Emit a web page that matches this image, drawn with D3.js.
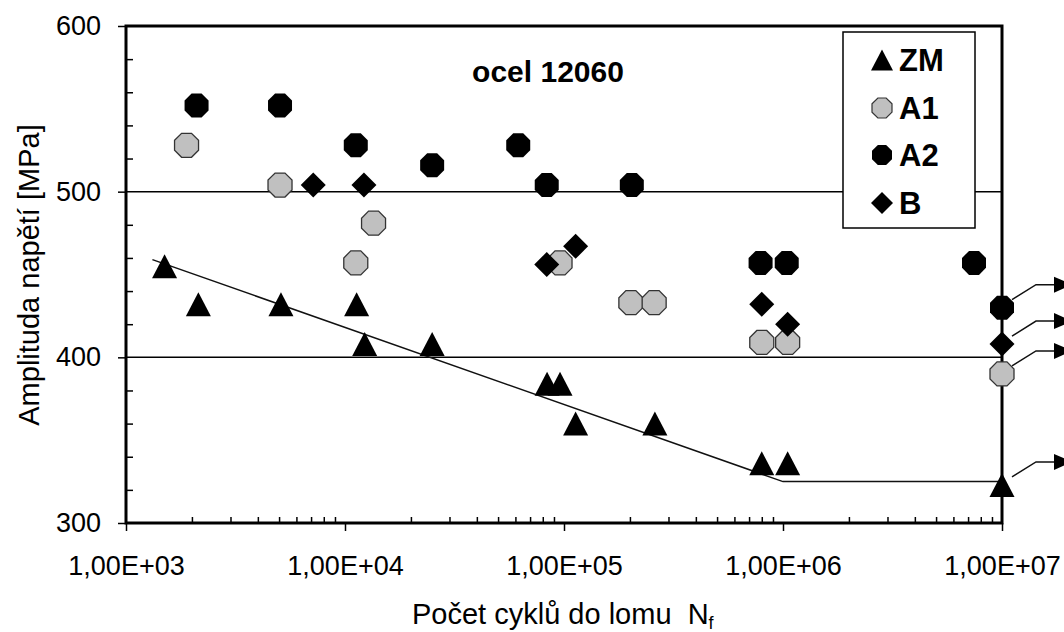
<!DOCTYPE html>
<html>
<head>
<meta charset="utf-8">
<script src="https://cdn.jsdelivr.net/npm/d3@7"></script>
<style>
    body { margin: 0; background: #fff; }
    svg { display: block; font-family: "Liberation Sans", Arial, sans-serif; }
</style>
</head>
<body>
<svg id="chart" width="1064" height="632"></svg>
<script>
/* S-N curve, ocel 12060 */
const seriesNames = ["ZM", "A1", "A2", "B"];

const zmN = [1500, 2140, 5100, 11300, 12300, 25000, 83700, 95900, 113000, 260000, 800000, 1050000, 1e7];
const zmS = [455, 432, 432, 432, 408, 408, 384, 384, 360, 360, 336, 336, 323];

const a1N = [1890, 5050, 11200, 13500, 95900, 202000, 258000, 800000, 1050000, 1e7];
const a1S = [528, 504, 457, 481, 457, 433, 433, 409, 409, 390];

const a2N = [2100, 5050, 11200, 25000, 61800, 83400, 204000, 790000, 1040000, 7450000, 1e7];
const a2S = [552, 552, 528, 516, 528, 504, 504, 457, 457, 457, 430];

const bN = [7160, 12200, 83400, 113000, 800000, 1050000, 1e7];
const bS = [504, 504, 456, 467, 432, 420, 408];

// fitted curve for ZM
const fitN = [1320, 1e6, 1e7];
const fitS = [459, 325, 325];

// runout points (arrows)
const runoutN = 1e7;
const runoutS = [430, 408, 390, 323];

const xTicks = [1e3, 1e4, 1e5, 1e6, 1e7];
const yTicks = [300, 400, 500, 600];
const gridValues = [400, 500];

const svg = d3.select("svg#chart");
const plotLeft = 126, plotRight = 1002, plotTop = 26, plotBottom = 523;

const x = d3.scaleLog().domain([1e3, 1e7]).range([plotLeft, plotRight]);
const y = d3.scaleLinear().domain([300, 600]).range([plotBottom, plotTop]);

// marker shapes
function octagon(r) {
    const R = r / Math.cos(Math.PI / 8);
    const pts = d3.range(8).map((k) => {
        const a = Math.PI / 8 + (k * Math.PI) / 4;
        return [R * Math.cos(a), R * Math.sin(a)];
    });
    return "M" + pts.map((p) => p.join(",")).join("L") + "Z";
}
function triangle(w, h) {
    return `M0,${-h / 2}L${w / 2},${h / 2}L${-w / 2},${h / 2}Z`;
}
function diamond(r) {
    return `M0,${-r}L${r},0L0,${r}L${-r},0Z`;
}

const styles = {
    ZM: { d: triangle(25, 24), dl: triangle(22, 21), fill: "#000", stroke: "none" },
    A1: { d: octagon(12), dl: octagon(10), fill: "#c0c0c0", stroke: "#333" },
    A2: { d: octagon(12), dl: octagon(10), fill: "#000", stroke: "none" },
    B: { d: diamond(12.5), dl: diamond(11), fill: "#000", stroke: "none" },
};

// gridlines
svg.append("g")
    .selectAll("line")
    .data(gridValues)
    .join("line")
    .attr("x1", plotLeft)
    .attr("x2", plotRight)
    .attr("y1", (d) => y(d))
    .attr("y2", (d) => y(d))
    .attr("stroke", "#000")
    .attr("stroke-width", 1.5);

// y axis major + minor ticks
const yAxis = svg.append("g")
    .attr("transform", `translate(${plotLeft},0)`)
    .call(d3.axisLeft(y).tickValues(yTicks).tickSize(8).tickPadding(17).tickSizeOuter(0));
yAxis.select(".domain").remove();
yAxis.selectAll("line").attr("stroke-width", 1.5);
yAxis.selectAll("text")
    .attr("font-size", 27)
    .attr("font-family", "Liberation Sans, Arial, sans-serif")
    .attr("fill", "#000");

const yMinor = d3.range(320, 600, 20).filter((v) => v % 100 !== 0);
svg.append("g")
    .attr("transform", `translate(${plotLeft},0)`)
    .call(d3.axisRight(y).tickValues(yMinor).tickSize(7).tickFormat(""))
    .call((g) => g.select(".domain").remove())
    .selectAll("line").attr("stroke-width", 1.5);

// x axis major + minor ticks
const xAxis = svg.append("g")
    .attr("transform", `translate(0,${plotBottom})`)
    .call(d3.axisBottom(x).tickValues(xTicks).tickSize(8).tickSizeOuter(0)
        .tickFormat((d) => "1,00E+0" + Math.round(Math.log10(d))));
xAxis.select(".domain").remove();
xAxis.selectAll("line").attr("stroke-width", 1.5);
xAxis.selectAll("text")
    .attr("y", 52)
    .attr("dy", 0)
    .attr("font-size", 27)
    .attr("font-family", "Liberation Sans, Arial, sans-serif")
    .attr("fill", "#000");

const xMinor = [];
xTicks.slice(0, -1).forEach((d) => {
    for (let k = 2; k <= 9; k++) xMinor.push(d * k);
});
svg.append("g")
    .attr("transform", `translate(0,${plotBottom})`)
    .call(d3.axisTop(x).tickValues(xMinor).tickSize(6).tickFormat(""))
    .call((g) => g.select(".domain").remove())
    .selectAll("line").attr("stroke-width", 1.5);

// plot frame
svg.append("rect")
    .attr("x", plotLeft)
    .attr("y", plotTop)
    .attr("width", plotRight - plotLeft)
    .attr("height", plotBottom - plotTop)
    .attr("fill", "none")
    .attr("stroke", "#000")
    .attr("stroke-width", 3);

// fit line
const fitLine = d3.line().x((d) => x(d[0])).y((d) => y(d[1]));
svg.append("path")
    .datum(fitN.map((n, i) => [n, fitS[i]]))
    .attr("d", fitLine)
    .attr("fill", "none")
    .attr("stroke", "#111")
    .attr("stroke-width", 1.5);

// runout arrows
const arrows = svg.append("g");
runoutS.forEach((s) => {
    const px = x(runoutN), py = y(s);
    const ly = py - 23;
    arrows.append("path")
        .attr("d", `M${px + 10},${py - 8}L${px + 34},${ly}L1056,${ly}`)
        .attr("fill", "none")
        .attr("stroke", "#111")
        .attr("stroke-width", 1.5);
    arrows.append("path")
        .attr("d", `M1054,${ly - 8}L1072,${ly}L1054,${ly + 8}Z`)
        .attr("fill", "#000");
});

// points
const seriesData = [
    ["ZM", zmN, zmS],
    ["A1", a1N, a1S],
    ["A2", a2N, a2S],
    ["B", bN, bS],
];
seriesData.forEach(([name, ns, ss]) => {
    const st = styles[name];
    svg.append("g")
        .selectAll("path")
        .data(ns.map((n, i) => [n, ss[i]]))
        .join("path")
        .attr("d", st.d)
        .attr("transform", (d) => `translate(${x(d[0])},${y(d[1])})`)
        .attr("fill", st.fill)
        .attr("stroke", st.stroke)
        .attr("stroke-width", 1.3);
});

// title
svg.append("text")
    .text("ocel 12060")
    .attr("x", 548)
    .attr("y", 82)
    .attr("text-anchor", "middle")
    .attr("font-weight", "bold")
    .style("font-size", "30px");

// legend
const legend = svg.append("g");
legend.append("rect")
    .attr("x", 843)
    .attr("y", 32)
    .attr("width", 132)
    .attr("height", 196)
    .attr("fill", "#fff")
    .attr("stroke", "#000")
    .attr("stroke-width", 1.5);
const legendY = [60, 108, 155, 203];
seriesNames.forEach((name, i) => {
    const st = styles[name];
    legend.append("path")
        .attr("d", st.dl)
        .attr("transform", `translate(882,${legendY[i]})`)
        .attr("fill", st.fill)
        .attr("stroke", st.stroke)
        .attr("stroke-width", 1.2);
    legend.append("text")
        .text(name)
        .attr("x", 899)
        .attr("y", legendY[i] + 11)
        .attr("font-weight", "bold")
        .style("font-size", "31px");
});

// axis titles
svg.append("text")
    .text("Amplituda napětí [MPa]")
    .attr("transform", "translate(39,275) rotate(-90)")
    .attr("text-anchor", "middle")
    .style("font-size", "29px");

const xTitle = svg.append("text")
    .attr("x", 412)
    .attr("y", 624)
    .style("font-size", "29px")
    .style("white-space", "pre");
xTitle.append("tspan").text("Počet cyklů do lomu  N");
xTitle.append("tspan").text("f").attr("dy", 5).style("font-size", "18px");
</script>
</body>
</html>
